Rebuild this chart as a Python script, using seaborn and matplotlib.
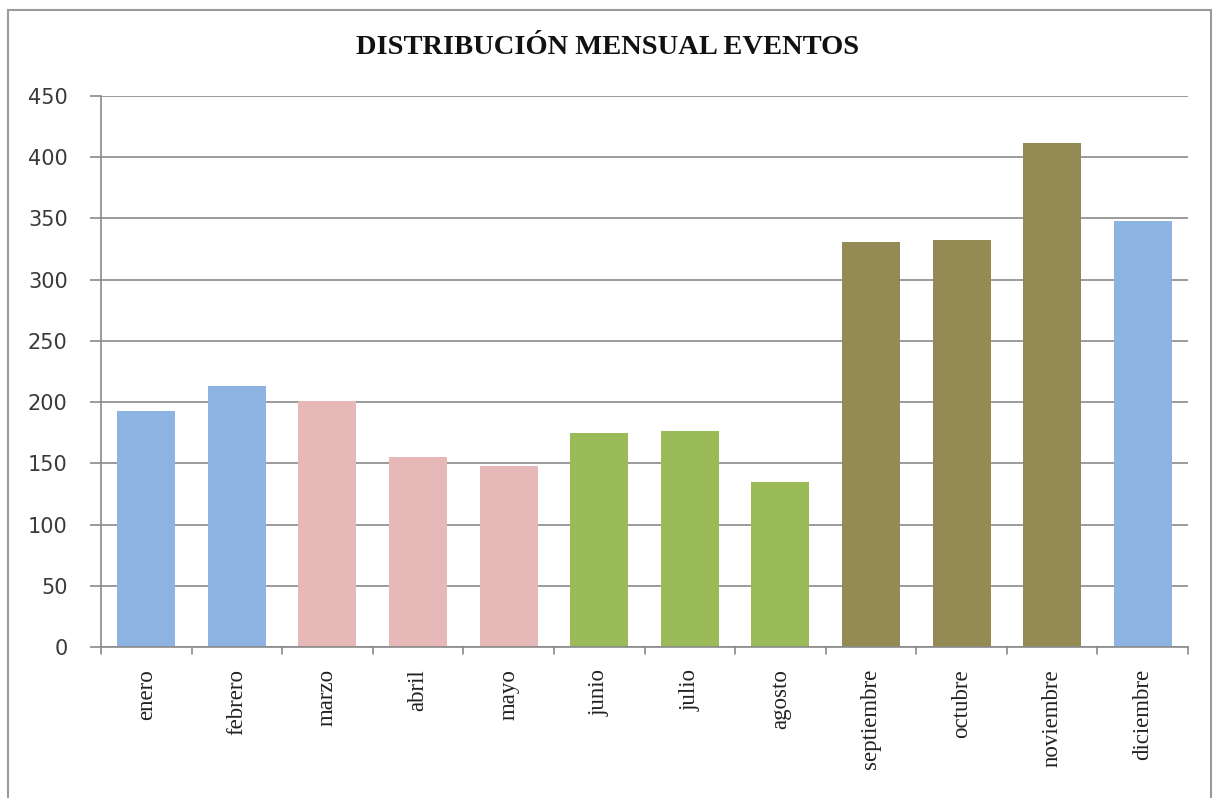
import matplotlib
matplotlib.use("Agg")
import matplotlib.pyplot as plt
import seaborn as sns
import pandas as pd
from matplotlib.patches import Rectangle

meses = ["enero", "febrero", "marzo", "abril", "mayo", "junio", "julio",
         "agosto", "septiembre", "octubre", "noviembre", "diciembre"]
eventos = [193, 213, 201, 155, 148, 175, 176, 135, 331, 332, 412, 348]
colores = ["#8DB3E2", "#8DB3E2", "#E6B9B8", "#E6B9B8", "#E6B9B8", "#9BBB59",
           "#9BBB59", "#9BBB59", "#948A54", "#948A54", "#948A54", "#8DB3E2"]
ticks_y = [0, 50, 100, 150, 200, 250, 300, 350, 400, 450]

df = pd.DataFrame({"mes": meses, "eventos": eventos})

sns.set_style("white")
fig = plt.figure(figsize=(12.16, 7.98), dpi=100)
ax = fig.add_axes([101 / 1216, 1 - 647 / 798, (1188 - 101) / 1216, (647 - 96) / 798])

sns.barplot(data=df, x="mes", y="eventos", hue="mes", palette=colores,
            legend=False, width=0.64, saturation=1, ax=ax, zorder=2,
            edgecolor="none")

ax.set_ylim(0, 450)
ax.set_xlim(-0.5, len(meses) - 0.5)
ax.set_yticks(ticks_y)
ax.set_yticklabels([str(t) for t in ticks_y], fontsize=15, color="#3a3a3a",
                   family="DejaVu Sans")
ax.yaxis.grid(True, color="#8a8a8a", linewidth=1.2, zorder=0)
ax.set_axisbelow(True)

ax.set_xticks(range(len(meses)))
ax.set_xticklabels(meses, rotation=90, fontsize=16.5, family="Liberation Serif",
                   color="#222222")
ax.tick_params(axis="x", length=0, pad=16)
ax.tick_params(axis="y", length=8, color="#8a8a8a", width=1.2, left=True, pad=16)

# category separators below the baseline
for b in [i - 0.5 for i in range(len(meses) + 1)]:
    ax.plot([b, b], [0, -6], color="#8a8a8a", lw=1.2, clip_on=False, zorder=3)

ax.set_xlabel("")
ax.set_ylabel("")
for s in ["top", "right"]:
    ax.spines[s].set_visible(False)
ax.spines["left"].set_color("#8a8a8a")
ax.spines["left"].set_linewidth(1.2)
ax.spines["bottom"].set_color("#8a8a8a")
ax.spines["bottom"].set_linewidth(1.2)

fig.text(0.5, 1 - 48 / 798, "DISTRIBUCIÓN MENSUAL EVENTOS", ha="center",
         va="center", fontsize=20.5, fontweight="bold", family="Liberation Serif",
         color="#111111")

# outer chart frame
fig.patches.append(Rectangle((8 / 1216, -0.05), (1211 - 8) / 1216, 1.05 - 10 / 798,
                             transform=fig.transFigure, fill=False,
                             edgecolor="#9a9a9a", linewidth=1.5))

fig.savefig("out.png", dpi=100, facecolor="white")
